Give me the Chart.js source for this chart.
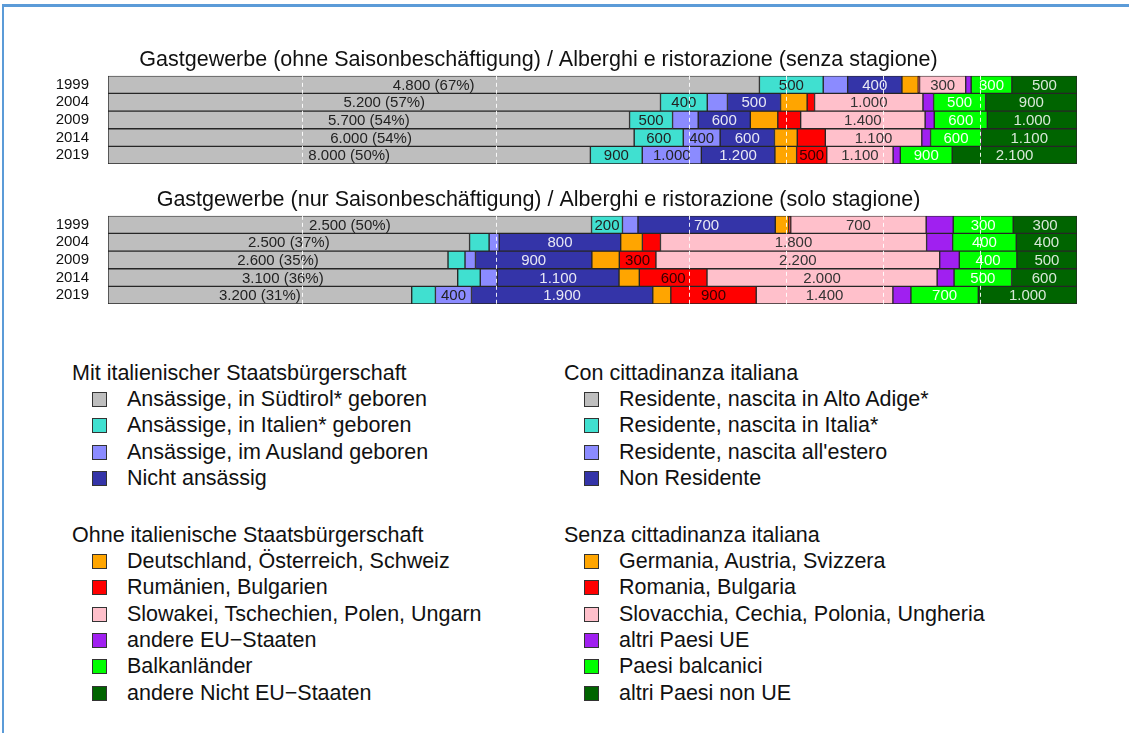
<!DOCTYPE html>
<html>
<head>
<meta charset="utf-8">
<script src="https://cdn.jsdelivr.net/npm/chart.js@4/dist/chart.umd.min.js"></script>
<style>
  body { margin: 0; background: #fff; width: 1129px; height: 733px; overflow: hidden; position: relative;
         font-family: 'Liberation Sans', Arial, sans-serif; color: #111; }
  #frame { position: absolute; left: 2px; top: 4px; right: 0; bottom: 0;
           border-top: 3px solid #5b9bd8; border-left: 2px solid #5b9bd8; }
  canvas { position: absolute; left: 0; width: 1129px; height: 145px; }
  #c1 { top: 47px; }
  #c2 { top: 187px; }
  .lg { position: absolute; font-size: 21.5px; line-height: 24px; white-space: nowrap; }
  .box { position: absolute; width: 13px; height: 13px; border: 1px solid #333; }
</style>
</head>
<body>
<div id="frame"></div>
<canvas id="c1" width="1129" height="145"></canvas>
<canvas id="c2" width="1129" height="145"></canvas>
<div id="legend"></div>
<script>
// Jahre / anni
const years = ['1999', '2004', '2009', '2014', '2019'];

// Gastgewerbe ohne Saisonbeschäftigung (Personen)
const ohneSuedtirol = [4800, 5200, 5700, 6000, 8000];
const ohneItalien   = [470, 440, 470, 560, 860];
const ohneAusland   = [180, 190, 280, 420, 980];
const ohneNichtAns  = [400, 500, 570, 620, 1220];
const ohneDACH      = [120, 250, 300, 260, 360];
const ohneRoBg      = [10, 70, 250, 320, 500];
const ohneV4        = [340, 1020, 1360, 1100, 1100];
const ohneEU        = [40, 100, 100, 100, 120];
const ohneBalkan    = [300, 490, 580, 580, 860];
const ohneNichtEU   = [480, 860, 980, 1090, 2070];

// Gastgewerbe nur Saisonbeschäftigung (Personen)
const nurSuedtirol = [2500, 2500, 2600, 3100, 3200];
const nurItalien   = [160, 135, 130, 200, 250];
const nurAusland   = [80, 70, 80, 150, 380];
const nurNichtAns  = [710, 840, 890, 1080, 1910];
const nurDACH      = [70, 150, 210, 180, 190];
const nurRoBg      = [10, 125, 280, 600, 900];
const nurV4        = [700, 1840, 2170, 2040, 1440];
const nurEU        = [140, 180, 150, 150, 190];
const nurBalkan    = [310, 440, 440, 510, 710];
const nurNichtEU   = [330, 420, 460, 580, 1040];

const seriesDe = ['Ansässige, in Südtirol* geboren', 'Ansässige, in Italien* geboren', 'Ansässige, im Ausland geboren', 'Nicht ansässig',
  'Deutschland, Österreich, Schweiz', 'Rumänien, Bulgarien', 'Slowakei, Tschechien, Polen, Ungarn', 'andere EU−Staaten', 'Balkanländer', 'andere Nicht EU−Staaten'];
const seriesIt = ['Residente, nascita in Alto Adige*', 'Residente, nascita in Italia*', "Residente, nascita all'estero", 'Non Residente',
  'Germania, Austria, Svizzera', 'Romania, Bulgaria', 'Slovacchia, Cechia, Polonia, Ungheria', 'altri Paesi UE', 'Paesi balcanici', 'altri Paesi non UE'];
const headersDe = ['Mit italienischer Staatsbürgerschaft', 'Ohne italienische Staatsbürgerschaft'];
const headersIt = ['Con cittadinanza italiana', 'Senza cittadinanza italiana'];

const colors = ['#bebebe', '#40e0d0', '#8b8bff', '#3434a8', '#ffa500', '#ff0000', '#ffc0cb', '#a020f0', '#00ff00', '#006400'];
const textColors = ['#222', '#222', '#222', '#e8e8f4', '#222', '#300', '#333', '#eee', '#f4fff4', '#d8e8d8'];

const FONT = "'Liberation Sans', Arial, sans-serif";

function fmt(v) {
  const n = Math.round(v / 100) * 100;
  return String(n).replace(/\B(?=(\d{3})+(?!\d))/g, '.');
}

//Plugin: Beschriftungen und gestrichelte Linien über den Balken
const overlay = {
  id: 'overlay',
  afterDatasetsDraw(chart) {
    const ctx = chart.ctx;
    const area = chart.chartArea;
    const xs = chart.scales.x;
    ctx.save();
    ctx.font = '15px ' + FONT;
    ctx.textAlign = 'center';
    ctx.textBaseline = 'middle';
    chart.data.datasets.forEach((ds, k) => {
      chart.getDatasetMeta(k).data.forEach((bar, i) => {
        const share = ds.data[i];
        if (share < 3) return;
        let txt = fmt(ds.raw[i]);
        if (k === 0) txt += ' (' + Math.round(share) + '%)';
        ctx.fillStyle = textColors[k];
        ctx.fillText(txt, (bar.x + bar.base) / 2, bar.y + 1);
      });
    });
    ctx.strokeStyle = 'rgba(255,255,255,0.9)';
    ctx.lineWidth = 1;
    ctx.setLineDash([4, 3]);
    [20, 40, 60, 70, 80, 90].forEach(v => {
      const x = Math.round(xs.getPixelForValue(v)) + 0.5;
      ctx.beginPath();
      ctx.moveTo(x, area.top);
      ctx.lineTo(x, area.bottom);
      ctx.stroke();
    });
    ctx.restore();
  }
};

function makeChart(id, title, series) {
  const totals = years.map((_, i) => series.reduce((s, a) => s + a[i], 0));
  const datasets = series.map((arr, k) => ({
    label: seriesDe[k],
    raw: arr,
    data: arr.map((v, i) => 100 * v / totals[i]),
    backgroundColor: colors[k],
    borderColor: '#262626',
    borderWidth: 1,
    borderSkipped: false,
    barPercentage: 1,
    categoryPercentage: 1
  }));
  return new Chart(document.getElementById(id).getContext('2d'), {
    type: 'bar',
    data: { labels: years, datasets },
    options: {
      indexAxis: 'y',
      responsive: false,
      maintainAspectRatio: false,
      animation: false,
      layout: { padding: { left: 0, right: 52, top: 0, bottom: 1 } },
      scales: {
        x: { stacked: true, min: 0, max: 100, display: false },
        y: {
          stacked: true,
          grid: { display: false, drawTicks: false },
          border: { display: false },
          ticks: { color: '#111', font: { size: 15, family: FONT }, padding: 19, autoSkip: false },
          afterFit(s) { s.width = 108; }
        }
      },
      plugins: {
        legend: { display: false },
        tooltip: { enabled: false },
        title: {
          display: true, text: title, color: '#111',
          font: { size: 21.5, family: FONT, weight: 'normal' },
          padding: { top: 0, bottom: 3 }
        }
      }
    },
    plugins: [overlay]
  });
}

makeChart('c1', 'Gastgewerbe (ohne Saisonbeschäftigung) / Alberghi e ristorazione (senza stagione)',
  [ohneSuedtirol, ohneItalien, ohneAusland, ohneNichtAns, ohneDACH, ohneRoBg, ohneV4, ohneEU, ohneBalkan, ohneNichtEU]);
makeChart('c2', 'Gastgewerbe (nur Saisonbeschäftigung) / Alberghi e ristorazione (solo stagione)',
  [nurSuedtirol, nurItalien, nurAusland, nurNichtAns, nurDACH, nurRoBg, nurV4, nurEU, nurBalkan, nurNichtEU]);

//Legende (HTML)
const legend = document.getElementById('legend');
function addText(txt, x, cy) {
  const d = document.createElement('div');
  d.className = 'lg';
  d.textContent = txt;
  d.style.left = x + 'px';
  d.style.top = (cy - 12) + 'px';
  legend.appendChild(d);
}
function addBox(color, x, cy) {
  const b = document.createElement('div');
  b.className = 'box';
  b.style.background = color;
  b.style.left = x + 'px';
  b.style.top = (cy - 7) + 'px';
  legend.appendChild(b);
}
const step = 26.3;
[[headersDe, seriesDe, 72], [headersIt, seriesIt, 564]].forEach(([heads, names, x0]) => {
  addText(heads[0], x0, 373);
  for (let k = 0; k < 4; k++) {
    addBox(colors[k], x0 + 20, 399 + k * step);
    addText(names[k], x0 + 55, 399 + k * step);
  }
  addText(heads[1], x0, 535);
  for (let k = 4; k < 10; k++) {
    addBox(colors[k], x0 + 20, 561 + (k - 4) * step);
    addText(names[k], x0 + 55, 561 + (k - 4) * step);
  }
});
</script>
</body>
</html>
